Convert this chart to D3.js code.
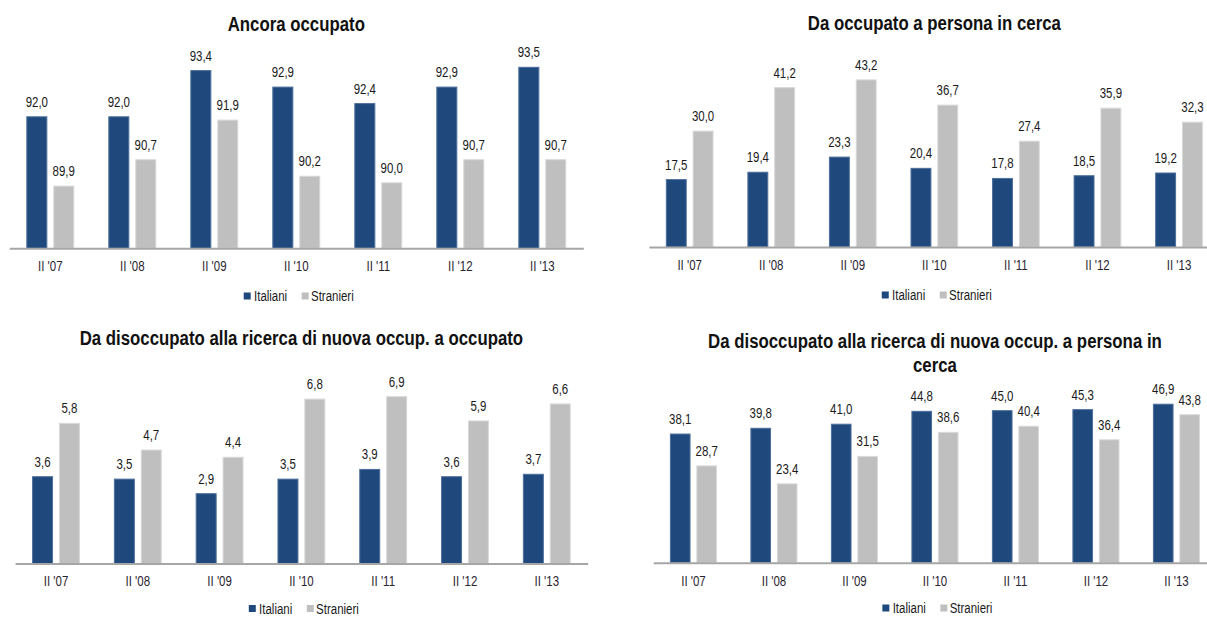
<!DOCTYPE html>
<html>
<head>
<meta charset="utf-8">
<script src="https://cdn.jsdelivr.net/npm/d3@7"></script>
<style>
  html, body { margin: 0; padding: 0; background: #fff; overflow: hidden; }
  svg { display: block; }
  text { font-family: 'Liberation Sans', Arial, sans-serif; }
</style>
</head>
<body>
<svg id="chart" width="1207" height="617"></svg>
<script>
// categories and series
const categories = ["II '07", "II '08", "II '09", "II '10", "II '11", "II '12", "II '13"];
const series = ["Italiani", "Stranieri"];

const ancoraItaliani = [92.0, 92.0, 93.4, 92.9, 92.4, 92.9, 93.5];
const ancoraStranieri = [89.9, 90.7, 91.9, 90.2, 90.0, 90.7, 90.7];

const cercaItaliani = [17.5, 19.4, 23.3, 20.4, 17.8, 18.5, 19.2];
const cercaStranieri = [30.0, 41.2, 43.2, 36.7, 27.4, 35.9, 32.3];

const disoccOccItaliani = [3.6, 3.5, 2.9, 3.5, 3.9, 3.6, 3.7];
const disoccOccStranieri = [5.8, 4.7, 4.4, 6.8, 6.9, 5.9, 6.6];

const disoccCercaItaliani = [38.1, 39.8, 41.0, 44.8, 45.0, 45.3, 46.9];
const disoccCercaStranieri = [28.7, 23.4, 31.5, 38.6, 40.4, 36.4, 43.8];

const colors = { Italiani: "#1f497d", Stranieri: "#bfbfbf" };
const edges = { Italiani: "#4d6f9c", Stranieri: "#d9d9d9" };
const fmt = v => d3.format(".1f")(v).replace(".", ",");
const narrow = "scale(0.82,1)"; // no Arial Narrow here, squeeze Liberation Sans instead

// one entry per panel: where it sits and what it shows
const panels = [
  { title: ["Ancora occupato"], titleY: 31, x: [9.3, 583.3], base: 248.3, top: 50.3, domain: [88, 94], legendY: 296,
    values: [ancoraItaliani, ancoraStranieri] },
  { title: ["Da occupato a persona in cerca"], titleY: 30, x: [648.9, 1219.8], base: 247, top: 53, domain: [0, 50], legendY: 295,
    values: [cercaItaliani, cercaStranieri] },
  { title: ["Da disoccupato alla ricerca di nuova occup. a occupato"], titleY: 345, x: [15.1, 587.7], base: 563.5, top: 369.5, domain: [0, 8], legendY: 608.5,
    values: [disoccOccItaliani, disoccOccStranieri] },
  { title: ["Da disoccupato alla ricerca di nuova occup. a persona in", "cerca"], titleY: 347.5, x: [653.2, 1216.7], base: 562.7, top: 393.2, domain: [0, 50], legendY: 608,
    values: [disoccCercaItaliani, disoccCercaStranieri] }
];

const svg = d3.select("#chart");

panels.forEach(p => {
  const g = svg.append("g");
  const x0 = d3.scaleBand().domain(categories).range(p.x).paddingInner(0.415).paddingOuter(0.2075);
  const x1 = d3.scaleBand().domain(series).range([0, x0.bandwidth()]).paddingInner(0.22);
  const y = d3.scaleLinear().domain(p.domain).range([p.base, p.top]);
  const cx = (p.x[0] + p.x[1]) / 2;

  // title
  g.selectAll("text.title").data(p.title).join("text")
    .attr("class", "title")
    .attr("transform", (d, i) => `translate(${cx},${p.titleY + i * 24}) ${narrow}`)
    .attr("text-anchor", "middle")
    .attr("font-size", "20.5px")
    .attr("font-weight", "bold")
    .attr("fill", "#111")
    .text(d => d);

  const rows = categories.map((c, i) => ({
    cat: c,
    items: series.map((s, j) => ({ s, v: p.values[j][i] }))
  }));

  const grp = g.selectAll("g.cat").data(rows).join("g")
    .attr("class", "cat")
    .attr("transform", d => `translate(${x0(d.cat)},0)`);

  grp.selectAll("rect").data(d => d.items).join("rect")
    .attr("x", d => x1(d.s) + 0.5)
    .attr("width", x1.bandwidth() - 1)
    .attr("y", d => y(d.v) + 0.5)
    .attr("height", d => p.base - y(d.v) - 0.5)
    .attr("fill", d => colors[d.s])
    .attr("stroke", d => edges[d.s])
    .attr("stroke-width", 1);

  grp.selectAll("text").data(d => d.items).join("text")
    .attr("transform", d => `translate(${x1(d.s) + x1.bandwidth() / 2},${y(d.v) - 9.5}) ${narrow}`)
    .attr("text-anchor", "middle")
    .attr("font-size", "14px")
    .attr("fill", "#1a1a1a")
    .text(d => fmt(d.v));

  // category axis
  const axis = g.append("g")
    .attr("transform", `translate(0,${p.base})`)
    .call(d3.axisBottom(x0).tickSize(0).tickSizeOuter(0).tickPadding(13));
  axis.select(".domain").attr("stroke", "#a6a6a6").attr("stroke-width", 2);
  axis.selectAll(".tick text")
    .attr("transform", narrow)
    .attr("font-size", "14px")
    .attr("font-family", "'Liberation Sans', Arial, sans-serif")
    .attr("fill", "#2a2430");

  // legend
  const lg = g.append("g").attr("transform", `translate(${cx - 52.6},${p.legendY})`);
  const li = lg.selectAll("g").data(series).join("g")
    .attr("transform", (d, i) => `translate(${i * 58},0)`);
  li.append("rect").attr("x", 0).attr("y", -3.5).attr("width", 7).attr("height", 7)
    .attr("fill", d => colors[d]);
  li.append("text")
    .attr("transform", (d, i) => `translate(${i ? 9.3 : 10.3},5) ${narrow}`)
    .attr("font-size", "14px").attr("fill", "#1a1a1a")
    .text(d => d);
});
</script>
</body>
</html>
